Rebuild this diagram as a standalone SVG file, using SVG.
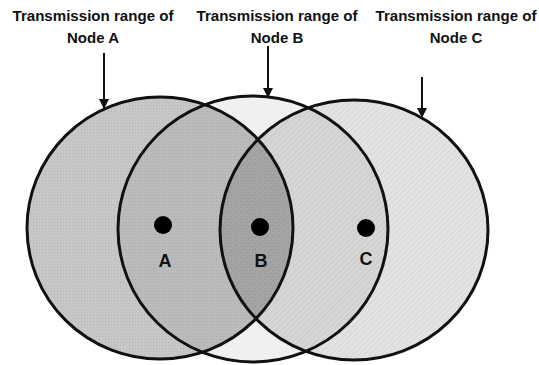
<svg xmlns="http://www.w3.org/2000/svg" width="539" height="365" viewBox="0 0 539 365">
<style>
.t{font-family:"Liberation Sans",Arial,sans-serif;font-weight:bold;font-size:15px;fill:#111;text-anchor:middle}
.n{font-family:"Liberation Sans",Arial,sans-serif;font-weight:bold;font-size:18px;fill:#111;text-anchor:middle}
.ring{stroke:#111;stroke-width:3}
.arr{stroke:#111;stroke-width:2;fill:none;marker-end:url(#ah)}
</style>
<defs>
<marker id="ah" viewBox="0 0 10 10" refX="9" refY="5" markerWidth="5" markerHeight="5" orient="auto" markerUnits="strokeWidth">
<path d="M0,0 L10,5 L0,10 z" fill="#111"/>
</marker>
<pattern id="hatch" width="4" height="4" patternUnits="userSpaceOnUse" patternTransform="rotate(45)">
<rect width="4" height="4" fill="#000" fill-opacity="0.11"/>
<line x1="0" y1="0" x2="0" y2="4" stroke="#000" stroke-opacity="0.06" stroke-width="1.5"/>
</pattern>
<pattern id="dots" width="3" height="3" patternUnits="userSpaceOnUse">
<rect width="3" height="3" fill="#000" fill-opacity="0.22"/>
<rect width="1" height="1" fill="#000" fill-opacity="0.08"/>
</pattern>
</defs>
<rect width="539" height="365" fill="#fff"/>
<g id="node-a-range">
<ellipse cx="160" cy="228" rx="133" ry="131" fill="url(#dots)"/>
</g>
<g id="node-b-range">
<ellipse cx="253" cy="229" rx="135" ry="133" fill="#000" fill-opacity="0.06"/>
</g>
<g id="node-c-range">
<ellipse cx="354" cy="230" rx="134" ry="130" fill="url(#hatch)"/>
</g>
<g id="outlines" fill="none">
<ellipse class="ring" cx="160" cy="228" rx="133" ry="131"/>
<ellipse class="ring" cx="253" cy="229" rx="135" ry="133"/>
<ellipse class="ring" cx="354" cy="230" rx="134" ry="130"/>
</g>
<g id="node-a">
<circle cx="163" cy="225" r="9" fill="#000"/>
<text class="n" x="165" y="267">A</text>
</g>
<g id="node-b">
<circle cx="260" cy="227" r="9" fill="#000"/>
<text class="n" x="261" y="267">B</text>
</g>
<g id="node-c">
<circle cx="366" cy="228" r="9" fill="#000"/>
<text class="n" x="366" y="265">C</text>
</g>
<g id="label-a">
<text class="t" x="93" y="21" textLength="161" lengthAdjust="spacingAndGlyphs">Transmission range of</text>
<text class="t" x="93" y="43">Node A</text>
</g>
<g id="label-b">
<text class="t" x="277" y="21" textLength="161" lengthAdjust="spacingAndGlyphs">Transmission range of</text>
<text class="t" x="277" y="43">Node B</text>
</g>
<g id="label-c">
<text class="t" x="456" y="21" textLength="161" lengthAdjust="spacingAndGlyphs">Transmission range of</text>
<text class="t" x="456" y="43">Node C</text>
</g>
<g id="connectors">
<line class="arr" x1="104" y1="53" x2="104" y2="108"/>
<line class="arr" x1="268" y1="46" x2="268" y2="97"/>
<line class="arr" x1="422" y1="77" x2="422" y2="117"/>
</g>
</svg>
